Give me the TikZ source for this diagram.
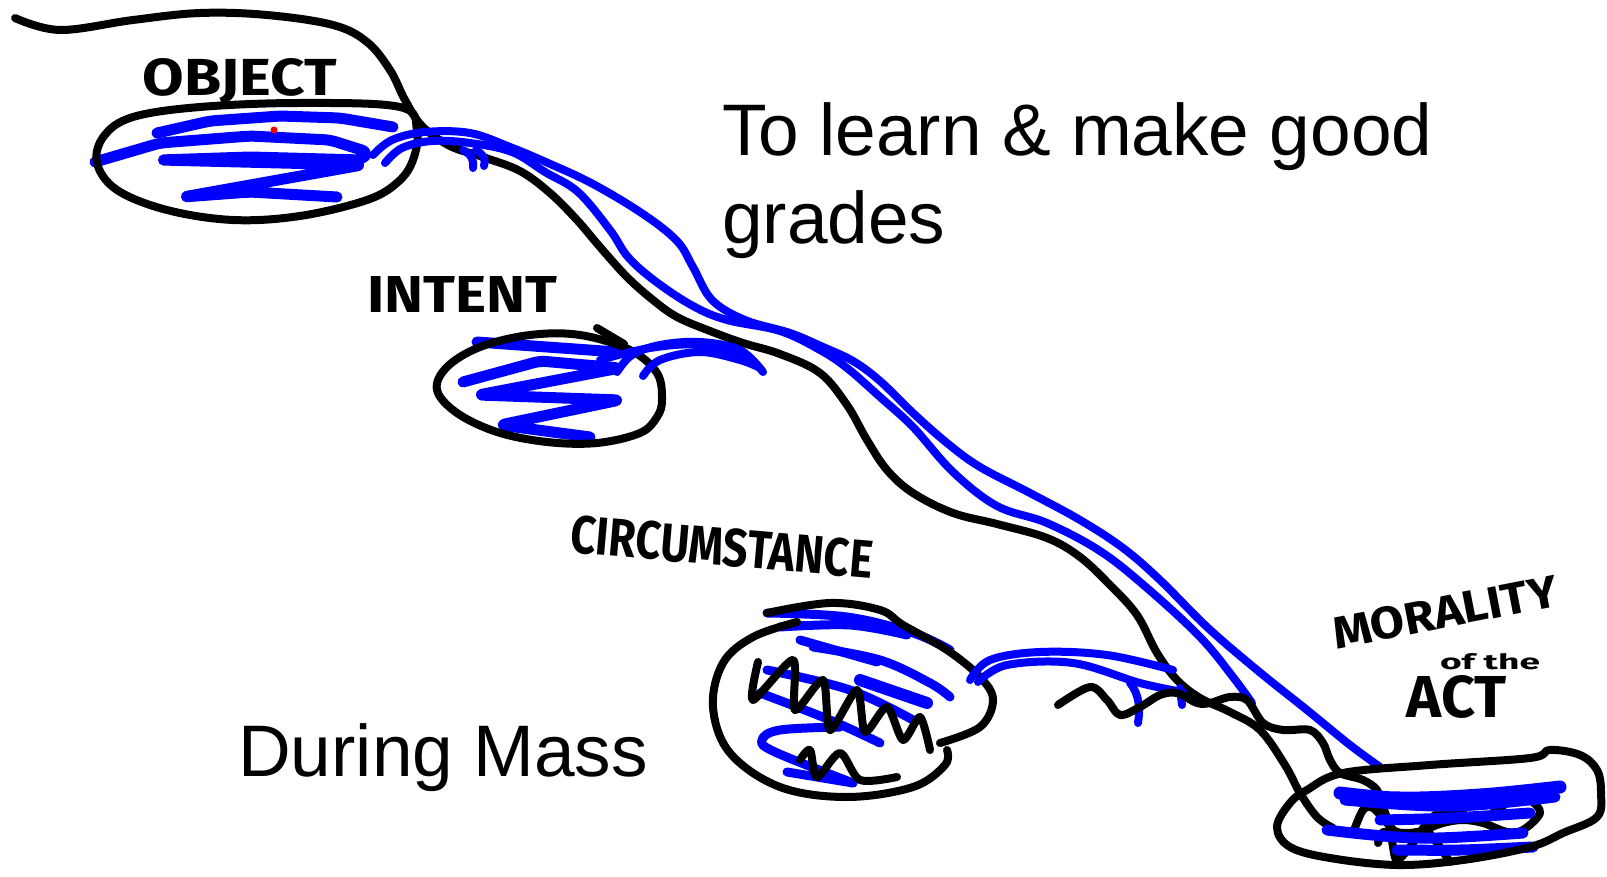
\documentclass[tikz,border=0pt]{standalone}
\usepackage{fontspec}
\setmainfont{Liberation Sans}
\newfontfamily\hand{Fira Sans}
\begin{document}
\begin{tikzpicture}[x=1pt,y=-1pt,
  ink/.style={line width=8pt, line cap=round, line join=round, draw=black},
  blueline/.style={line width=8pt, line cap=round, line join=round, draw=blue},
  bluefill/.style={line width=11pt, line cap=round, line join=round, draw=blue, rounded corners=6pt},
  typed/.style={inner sep=0pt, anchor=base west, font=\fontsize{73}{88}\selectfont},
  handlbl/.style={inner sep=0pt, font=\hand\bfseries}]
\useasboundingbox (0,0) rectangle (1607,877);
\fill[white] (0,0) rectangle (1607,877);

% ---------- OBJECT ----------
\draw[bluefill] (157,133) -- (210,121) -- (280,116) -- (340,118) -- (393,127);
\draw[bluefill] (95,162) -- (160,143) -- (250,136) -- (330,140) -- (368,152) -- (362,160) -- (250,157) -- (160,160) -- (362,165) -- (183,197) -- (250,192) -- (337,197);
\draw[ink] plot[smooth cycle, tension=0.6] coordinates {(97,163) (104,136) (133,117) (200,107) (300,103) (400,107) (417,130) (413,160) (398,182) (367,200) (300,216) (233,220) (167,210) (117,190)};
\fill[red] (274,130) circle (3.5);

% top curve and long black line
\draw[ink] plot[smooth, tension=0.6] coordinates {(15,18) (60,30) (133,20) (200,13) (267,15) (333,25) (367,42) (390,70) (405,100) (422,126) (450,146) (483,157) (520,171) (550,193) (577,220) (600,247) (627,277) (653,300) (677,317) (710,331) (743,343) (780,354) (820,373) (847,405) (867,440) (887,470) (913,493) (953,513) (997,524) (1047,538) (1080,557) (1110,585) (1137,615) (1157,653) (1177,680) (1200,698) (1230,712) (1260,730) (1285,765) (1300,793) (1317,817) (1333,828)};

% blue lines object -> morality
\draw[blueline] plot[smooth, tension=0.6] coordinates {(373,155) (392,140) (425,132) (470,133) (510,147) (548,163) (593,184) (643,214) (677,241) (693,267) (712,300) (745,320) (790,333) (823,347) (853,361) (880,381) (913,413) (947,443) (980,467) (1030,493) (1080,520) (1123,548) (1160,580) (1207,627) (1257,670) (1307,710) (1350,745) (1380,767)};
\draw[blueline] plot[smooth, tension=0.6] coordinates {(385,163) (402,148) (432,141) (470,143) (512,152) (545,172) (578,192) (610,230) (628,257) (655,281) (693,306) (727,320) (780,331) (820,350) (847,368) (880,397) (913,427) (953,472) (997,506) (1047,523) (1100,551) (1147,588) (1200,637) (1233,677) (1252,703)};
\draw[blueline] (463,150) .. controls (472,155) and (474,160) .. (473,168);
\draw[blueline] (476,150) .. controls (484,155) and (486,160) .. (484,166);

% ---------- INTENT ----------
\draw[bluefill] (477,342) -- (617,352);
\draw[bluefill] (463,382) -- (540,361) -- (620,368) -- (478,395) -- (620,400) -- (500,425) -- (590,437);
\draw[ink] plot[smooth cycle, tension=0.6] coordinates {(437,390) (447,367) (480,347) (530,335) (580,335) (630,350) (657,373) (662,400) (657,417) (640,433) (597,443) (547,442) (497,432) (457,413)};
\draw[ink] (597,328) -- (624,344);
\draw[blueline] plot[smooth, tension=0.6] coordinates {(617,372) (632,355) (660,345) (700,342) (740,350) (763,372)};
\draw[blueline] plot[smooth, tension=0.6] coordinates {(643,376) (660,360) (700,352) (740,360) (760,368)};
\draw[blueline] plot[smooth, tension=0.6] coordinates {(600,360) (650,348) (700,345) (748,358)};

% ---------- CIRCUMSTANCE ----------
\draw[blueline, line width=9pt] plot[smooth, tension=0.6] coordinates {(767,613) (847,617) (913,633) (950,650)};
\draw[blueline, line width=9pt] plot[smooth, tension=0.6] coordinates {(780,627) (850,625) (907,635)};
\draw[blueline, line width=9pt] (800,640) -- (877,662);
\draw[blueline, line width=9pt] plot[smooth, tension=0.6] coordinates {(813,647) (880,660) (930,683) (950,697)};
\draw[blueline, line width=12pt] (860,680) -- (927,703);
\draw[blueline, line width=9pt] plot[smooth, tension=0.6] coordinates {(767,670) (850,690) (913,720)};
\draw[blueline, line width=9pt] plot[smooth, tension=0.6] coordinates {(760,693) (830,720) (880,743)};
\draw[blueline, line width=9pt] plot[smooth, tension=0.6] coordinates {(840,727) (780,730) (762,740) (775,752) (853,783)};
\draw[blueline, line width=9pt] (787,772) -- (853,783);
\draw[ink] plot[smooth, tension=0.6] coordinates {(797,622) (753,637) (723,663) (713,707) (730,753) (780,787) (847,797) (913,787) (945,765) (947,750)};
\draw[ink] plot[smooth, tension=0.6] coordinates {(767,613) (830,603) (880,610) (903,625) (947,650) (980,677) (993,700) (980,727) (940,743)};
\draw[ink] plot[smooth, tension=0.45] coordinates {(758,662) (753,700) (793,660) (795,710) (823,680) (830,730) (857,690) (865,732) (887,707) (903,740) (920,717) (930,750)};
\draw[ink] plot[smooth, tension=0.5] coordinates {(800,760) (810,750) (817,777) (840,753) (860,780) (897,777)};
\draw[blueline] plot[smooth, tension=0.6] coordinates {(970,680) (990,660) (1040,652) (1107,655) (1173,670)};
\draw[blueline] plot[smooth, tension=0.6] coordinates {(978,682) (1007,665) (1073,663) (1140,683) (1183,692)};
\draw[blueline] (1130,683) .. controls (1140,695) and (1140,710) .. (1138,723);
\draw[blueline] (1180,688) -- (1182,705);

% wavy black line into morality
\draw[ink] plot[smooth, tension=0.55] coordinates {(1058,705) (1090,687) (1107,700) (1120,715) (1140,707) (1160,695) (1177,693) (1197,703) (1210,703) (1230,697) (1247,700) (1263,723) (1283,730) (1310,730) (1323,743) (1330,760) (1340,773) (1363,780) (1377,790) (1383,807) (1390,827) (1393,847) (1397,860) (1410,847) (1427,823) (1443,810) (1460,813) (1480,820) (1497,810) (1517,797) (1530,800) (1540,813) (1523,830) (1507,832) (1483,823) (1463,820) (1443,823) (1417,832) (1397,832) (1387,823) (1373,808) (1363,810) (1353,833)};
\draw[ink] plot[smooth, tension=0.6] coordinates {(1378,843) (1383,832) (1392,835)};
\draw[ink] plot[smooth, tension=0.6] coordinates {(1427,830) (1437,843) (1450,862)};

% ---------- MORALITY ----------
\draw[bluefill, line width=13pt] plot[smooth, tension=0.6] coordinates {(1340,793) (1400,798) (1480,795) (1560,787)};
\draw[bluefill] plot[smooth, tension=0.6] coordinates {(1345,800) (1450,806) (1555,797)};
\draw[bluefill] plot[smooth, tension=0.6] coordinates {(1380,820) (1450,818) (1530,813)};
\draw[bluefill] plot[smooth, tension=0.6] coordinates {(1327,830) (1420,838) (1523,833)};
\draw[bluefill] plot[smooth, tension=0.6] coordinates {(1397,850) (1460,850) (1533,847)};
\draw[ink] plot[smooth cycle, tension=0.6] coordinates {(1277,827) (1290,803) (1307,790) (1343,773) (1430,765) (1530,758) (1550,750) (1580,755) (1597,770) (1601,793) (1597,817) (1563,833) (1530,847) (1463,860) (1397,865) (1330,858) (1290,847)};

% ---------- labels ----------
\node[handlbl] (lobj) at (240,81) {\resizebox{194pt}{37pt}{OBJECT}};
\node[handlbl] (lint) at (462,295) {\resizebox{190pt}{36pt}{INTENT}};
\node[handlbl, rotate=-5] (lcirc) at (722,547) {\resizebox{303pt}{38pt}{CIRCUMSTANCE}};
\node[handlbl, rotate=11] (lmor) at (1445,612) {\resizebox{228pt}{32pt}{MORALITY}};
\node[handlbl] (lof) at (1490,662) {\resizebox{100pt}{16pt}{of the}};
\node[handlbl] (lact) at (1457,697) {\resizebox{100pt}{42pt}{ACT}};

\node[typed] (t1) at (722,156) {To learn \& make good};
\node[typed] (t2) at (722,244) {grades};
\node[typed] (t3) at (238,776) {During Mass};
\end{tikzpicture}
\end{document}
